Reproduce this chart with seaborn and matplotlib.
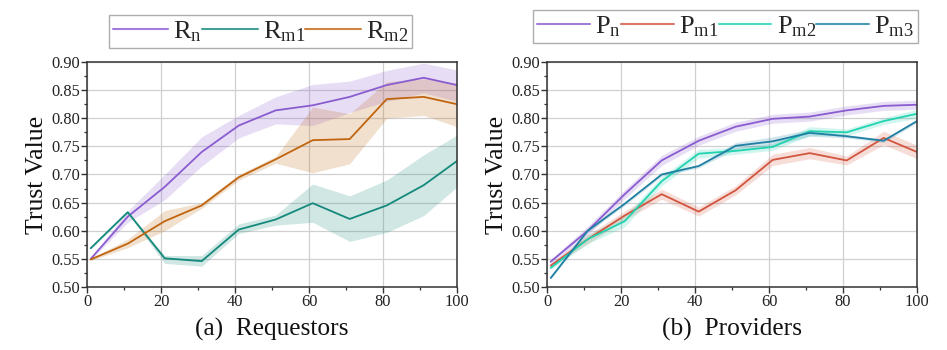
import numpy as np
import pandas as pd
import matplotlib
matplotlib.use("Agg")
import matplotlib.pyplot as plt
import seaborn as sns
from matplotlib.lines import Line2D
from matplotlib.ticker import MultipleLocator

# ---- data ----
x = [1, 11, 21, 31, 41, 51, 61, 71, 81, 91, 100]

r_n = [0.550, 0.625, 0.678, 0.740, 0.787, 0.814, 0.823, 0.838, 0.859, 0.872, 0.859]
r_n_lo = [0.548, 0.615, 0.655, 0.715, 0.765, 0.790, 0.787, 0.810, 0.830, 0.845, 0.830]
r_n_hi = [0.552, 0.635, 0.700, 0.767, 0.805, 0.838, 0.860, 0.866, 0.885, 0.898, 0.886]

r_m1 = [0.569, 0.633, 0.551, 0.546, 0.602, 0.620, 0.649, 0.621, 0.645, 0.681, 0.724]
r_m1_lo = [0.567, 0.631, 0.542, 0.537, 0.595, 0.610, 0.615, 0.581, 0.597, 0.627, 0.678]
r_m1_hi = [0.571, 0.635, 0.556, 0.556, 0.612, 0.628, 0.683, 0.662, 0.690, 0.735, 0.770]

r_m2 = [0.549, 0.577, 0.617, 0.645, 0.695, 0.727, 0.761, 0.763, 0.834, 0.838, 0.825]
r_m2_lo = [0.547, 0.570, 0.600, 0.640, 0.690, 0.720, 0.703, 0.719, 0.800, 0.805, 0.785]
r_m2_hi = [0.551, 0.585, 0.636, 0.650, 0.700, 0.732, 0.820, 0.808, 0.865, 0.870, 0.862]

p_n = [0.545, 0.600, 0.665, 0.725, 0.760, 0.785, 0.799, 0.803, 0.814, 0.822, 0.824]
p_n_err = [0.004, 0.008, 0.008, 0.009, 0.008, 0.008, 0.008, 0.008, 0.008, 0.008, 0.008]

p_m1 = [0.538, 0.585, 0.627, 0.665, 0.634, 0.672, 0.726, 0.738, 0.725, 0.765, 0.740]
p_m1_err = [0.003, 0.008, 0.008, 0.009, 0.008, 0.008, 0.010, 0.010, 0.008, 0.012, 0.012]

p_m2 = [0.534, 0.585, 0.617, 0.688, 0.737, 0.742, 0.749, 0.777, 0.775, 0.795, 0.808]
p_m2_err = [0.003, 0.008, 0.010, 0.008, 0.008, 0.006, 0.006, 0.008, 0.006, 0.006, 0.008]

p_m3 = [0.516, 0.600, 0.648, 0.700, 0.715, 0.751, 0.759, 0.774, 0.768, 0.760, 0.795]
p_m3_err = [0.002, 0.003, 0.003, 0.003, 0.003, 0.006, 0.008, 0.006, 0.003, 0.003, 0.003]

y_ticks = [0.50, 0.55, 0.60, 0.65, 0.70, 0.75, 0.80, 0.85, 0.90]
x_ticks = [0, 20, 40, 60, 80, 100]

# ---- style ----
sns.set_theme(style="ticks")
plt.rcParams["font.family"] = ["Liberation Serif", "DejaVu Serif"]
plt.rcParams["mathtext.fontset"] = "custom"
plt.rcParams["mathtext.rm"] = "Liberation Serif"
plt.rcParams["mathtext.it"] = "Liberation Serif"

PURPLE = "#8a5cd0"
TEAL = "#14897b"
ORANGE = "#c0650f"
RED = "#d2553f"
TURQ = "#22d3b0"
BLUE = "#1f80a3"

fig = plt.figure(figsize=(9.47, 3.5), dpi=100)
ax1 = fig.add_axes([87 / 947, 63 / 350, 370 / 947, 225 / 350])
ax2 = fig.add_axes([547 / 947, 63 / 350, 370 / 947, 225 / 350])


def draw(ax, y, lo, hi, color, label):
    df = pd.DataFrame({"x": x, "y": y})
    sns.lineplot(data=df, x="x", y="y", ax=ax, color=color, lw=1.3, label=label, legend=False)
    ax.fill_between(x, lo, hi, color=color, alpha=0.2, lw=0)


draw(ax1, r_n, r_n_lo, r_n_hi, PURPLE, "Rn")
draw(ax1, r_m1, r_m1_lo, r_m1_hi, TEAL, "Rm1")
draw(ax1, r_m2, r_m2_lo, r_m2_hi, ORANGE, "Rm2")

for y, e, c, l in [(p_n, p_n_err, PURPLE, "Pn"), (p_m1, p_m1_err, RED, "Pm1"),
                   (p_m2, p_m2_err, TURQ, "Pm2"), (p_m3, p_m3_err, BLUE, "Pm3")]:
    lo = [a - b for a, b in zip(y, e)]
    hi = [a + b for a, b in zip(y, e)]
    draw(ax2, y, lo, hi, c, l)

for ax, xl in [(ax1, "(a)  Requestors"), (ax2, "(b)  Providers")]:
    ax.set_xlim(0, 100)
    ax.set_ylim(0.5, 0.9)
    ax.set_xticks(x_ticks)
    ax.set_yticks(y_ticks)
    ax.set_yticklabels([f"{v:.2f}" for v in y_ticks])
    ax.xaxis.set_minor_locator(MultipleLocator(10))
    ax.yaxis.set_minor_locator(MultipleLocator(0.025))
    ax.grid(True, which="major", color="#d0d0d0", lw=0.9)
    ax.set_axisbelow(True)
    ax.tick_params(axis="both", which="major", labelsize=11.8, length=4, width=1,
                   color="#333333", pad=1, labelcolor="#222222")
    ax.tick_params(axis="both", which="minor", length=2.5, width=0.9, color="#333333")
    for s in ax.spines.values():
        s.set_color("#333333")
        s.set_linewidth(1.1)
    ax.set_xlabel(xl, fontsize=18.3, labelpad=6, color="#111111")
    ax.set_ylabel("Trust Value", fontsize=18.5, labelpad=2, color="#111111")

h1 = [Line2D([], [], color=c, lw=1.5, alpha=0.8) for c in [PURPLE, TEAL, ORANGE]]
l1 = [r"$\mathrm{R}_{\mathrm{n}}$", r"$\mathrm{R}_{\mathrm{m1}}$", r"$\mathrm{R}_{\mathrm{m2}}$"]
leg1 = fig.legend(h1, l1, loc="center", bbox_to_anchor=(260.5 / 947, 1 - 31.5 / 350), ncol=3,
                  fontsize=19, handlelength=2.1, handletextpad=0.2, columnspacing=0.0,
                  frameon=True, fancybox=False, borderpad=0.15, borderaxespad=0)
leg1.get_frame().set_edgecolor("#999999")
leg1.get_frame().set_linewidth(1.0)

h2 = [Line2D([], [], color=c, lw=1.5, alpha=0.8) for c in [PURPLE, RED, TURQ, BLUE]]
l2 = [r"$\mathrm{P}_{\mathrm{n}}$", r"$\mathrm{P}_{\mathrm{m1}}$", r"$\mathrm{P}_{\mathrm{m2}}$",
      r"$\mathrm{P}_{\mathrm{m3}}$"]
leg2 = fig.legend(h2, l2, loc="center", bbox_to_anchor=(725.5 / 947, 1 - 26.5 / 350), ncol=4,
                  fontsize=19, handlelength=2.0, handletextpad=0.2, columnspacing=0.0,
                  frameon=True, fancybox=False, borderpad=0.15, borderaxespad=0)
leg2.get_frame().set_edgecolor("#999999")
leg2.get_frame().set_linewidth(1.0)

fig.savefig("out.png", dpi=100, facecolor="white")
